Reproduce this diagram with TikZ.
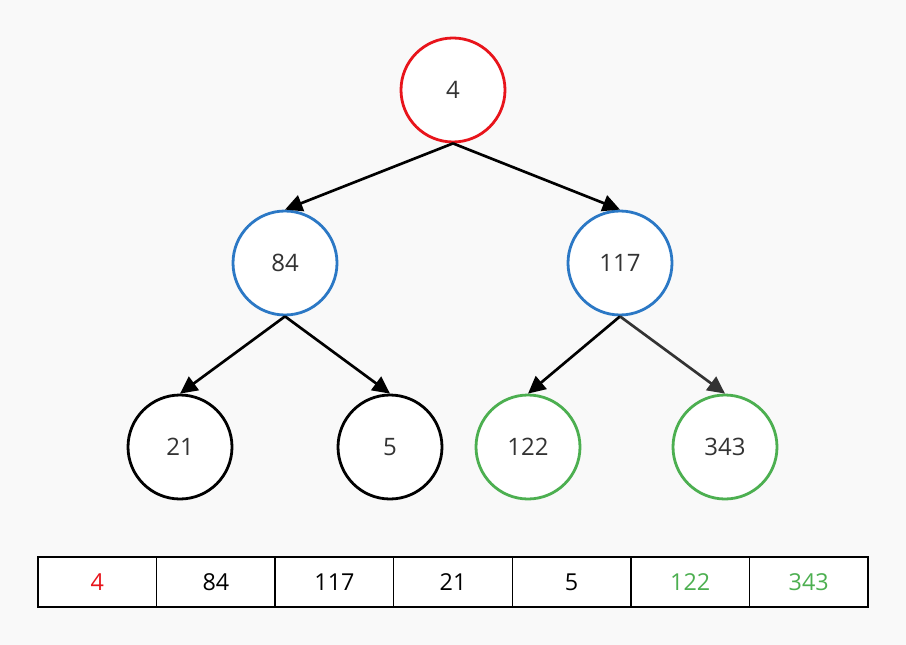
\documentclass[tikz,border=0pt]{standalone}
\usepackage{fontspec}
\setmainfont{Open Sans}
\usetikzlibrary{arrows.meta,positioning}
\definecolor{heapred}{HTML}{E8141B}
\definecolor{heapblue}{HTML}{2B78C5}
\definecolor{heapgreen}{HTML}{4CAF50}
\definecolor{heapbg}{HTML}{F9F9F9}
\tikzset{
  heap/node/.style={draw, circle, line width=2.1pt, fill=white, minimum size=78pt, inner sep=0pt, font=\fontsize{18}{21}\selectfont, text=black!80},
  heap/root/.style={heap/node, draw=heapred},
  heap/inner/.style={heap/node, draw=heapblue},
  heap/leaf/.style={heap/node, draw=black},
  heap/new/.style={heap/node, draw=heapgreen},
  heap/edge/.style={line width=2pt, -{Triangle[length=13pt,width=12.5pt]}},
  heap/cell/.style={draw, line width=1.1pt, fill=white, minimum width=88.93pt, minimum height=37.5pt, outer sep=0pt, inner sep=0pt, font=\fontsize{17.5}{20}\selectfont}
}

\begin{document}
\begin{tikzpicture}[x=0.75pt, y=-0.75pt]
  \fill[heapbg] (0,0) rectangle (906,645);
  \useasboundingbox (0,0) rectangle (906,645);

  % the tree
  \node[heap/root]  (root) at (453,90)  {4};
  \node[heap/inner] (n84)  at (285,263) {84};
  \node[heap/inner] (n117) at (620,263) {117};
  \node[heap/leaf]  (n21)  at (180,447) {21};
  \node[heap/leaf]  (n5)   at (390,447) {5};
  \node[heap/new]   (n122) at (528,447) {122};
  \node[heap/new]   (n343) at (725,447) {343};

  \draw[heap/edge] (root.south) -- (n84.north);
  \draw[heap/edge] (root.south) -- (n117.north);
  \draw[heap/edge] (n84.south) -- (n21.north);
  \draw[heap/edge] (n84.south) -- (n5.north);
  \draw[heap/edge] (n117.south) -- (n122.north);
  \draw[heap/edge, draw=black!80, fill=black!80] (n117.south) -- (n343.north);

  % the array
  \node[heap/cell, text=heapred] (c1) at (97.3,582) {4};
  \node[heap/cell, right=0pt of c1] (c2) {84};
  \node[heap/cell, right=0pt of c2] (c3) {117};
  \node[heap/cell, right=0pt of c3] (c4) {21};
  \node[heap/cell, right=0pt of c4] (c5) {5};
  \node[heap/cell, right=0pt of c5, text=heapgreen] (c6) {122};
  \node[heap/cell, right=0pt of c6, text=heapgreen] (c7) {343};
\end{tikzpicture}
\end{document}
